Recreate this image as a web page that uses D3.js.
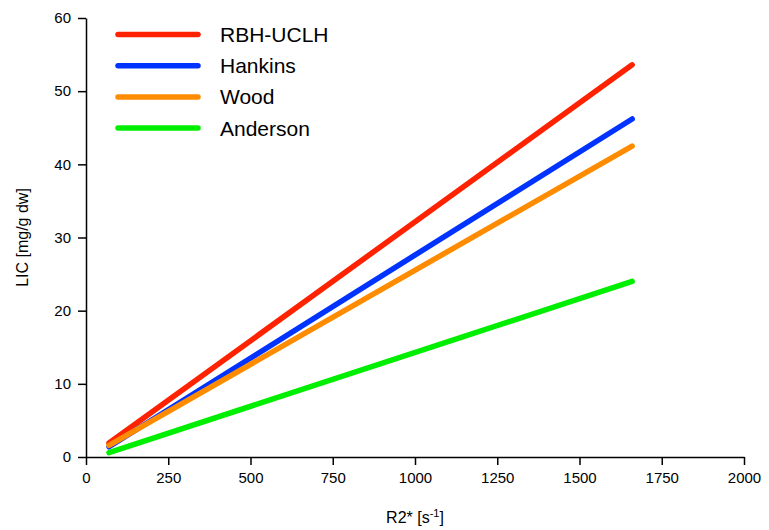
<!DOCTYPE html>
<html>
<head>
<meta charset="utf-8">
<script src="https://cdn.jsdelivr.net/npm/d3@7"></script>
<style>
  body { margin: 0; background: #fff; }
  text { font-family: Arial, "Liberation Sans", sans-serif; }
</style>
</head>
<body>
<div id="chart"></div>
<script>
var r2Values = [70, 1660];
var seriesNames = ['RBH-UCLH', 'Hankins', 'Wood', 'Anderson'];
var seriesColors = ['#ff2200', '#0033ff', '#ff8c00', '#00ee00'];
var rbhValues = [1.9, 53.6];
var hankinsValues = [1.4, 46.2];
var woodValues = [1.6, 42.5];
var andersonValues = [0.6, 24.0];
var xTicks = [0, 250, 500, 750, 1000, 1250, 1500, 1750, 2000];
var yTicks = [0, 10, 20, 30, 40, 50, 60];

var allValues = [rbhValues, hankinsValues, woodValues, andersonValues];

var width = 769, height = 530;
var margin = { top: 18, right: 25, bottom: 73, left: 86 };

var svg = d3.select('#chart')
  .append('svg')
  .attr('width', width)
  .attr('height', height);

var x = d3.scaleLinear()
  .domain([0, 2000])
  .range([margin.left, 744]);

var y = d3.scaleLinear()
  .domain([0, 60])
  .range([457, margin.top]);

// axes
var xAxis = svg.append('g')
  .attr('transform', 'translate(0,' + y(0) + ')')
  .call(d3.axisBottom(x).tickValues(xTicks).tickFormat(d3.format('d'))
    .tickSize(8).tickPadding(7).tickSizeOuter(0));

var yAxis = svg.append('g')
  .attr('transform', 'translate(' + x(0) + ',0)')
  .call(d3.axisLeft(y).tickValues(yTicks).tickFormat(d3.format('d'))
    .tickSize(8).tickPadding(7).tickSizeOuter(0));

[xAxis, yAxis].forEach(function(ax) {
  ax.select('.domain').attr('stroke', '#000').attr('stroke-width', 1.5);
  ax.selectAll('.tick line').attr('stroke', '#000').attr('stroke-width', 1.5);
  ax.selectAll('.tick text')
    .attr('fill', '#000')
    .style('font-size', '15px')
    .style('font-family', 'Arial, "Liberation Sans", sans-serif');
});

// axis titles
var xTitle = svg.append('text')
  .attr('x', 415)
  .attr('y', 523)
  .attr('text-anchor', 'middle')
  .style('font-size', '16px');
xTitle.append('tspan').text('R2* [s');
xTitle.append('tspan').attr('dy', -6).style('font-size', '11px').text('-1');
xTitle.append('tspan').attr('dy', 6).text(']');

svg.append('text')
  .attr('transform', 'translate(28,' + y(30) + ') rotate(-90)')
  .attr('text-anchor', 'middle')
  .style('font-size', '16px')
  .text('LIC [mg/g dw]');

// lines
var line = d3.line()
  .x(function(d, i) { return x(r2Values[i]); })
  .y(function(d) { return y(d); });

svg.append('g')
  .selectAll('path')
  .data(allValues)
  .enter()
  .append('path')
  .attr('d', line)
  .attr('fill', 'none')
  .attr('stroke', function(d, i) { return seriesColors[i]; })
  .attr('stroke-width', 5.5)
  .attr('stroke-linecap', 'round');

// legend
var legend = svg.append('g').attr('class', 'legend');
var rows = legend.selectAll('g')
  .data(seriesNames)
  .enter()
  .append('g')
  .attr('transform', function(d, i) { return 'translate(0,' + (34.5 + i * 31.2) + ')'; });

rows.append('line')
  .attr('x1', 118)
  .attr('x2', 198)
  .attr('stroke', function(d, i) { return seriesColors[i]; })
  .attr('stroke-width', 5.5)
  .attr('stroke-linecap', 'round');

rows.append('text')
  .attr('x', 220)
  .attr('y', 7.5)
  .style('font-size', '21px')
  .text(function(d) { return d; });
</script>
</body>
</html>
